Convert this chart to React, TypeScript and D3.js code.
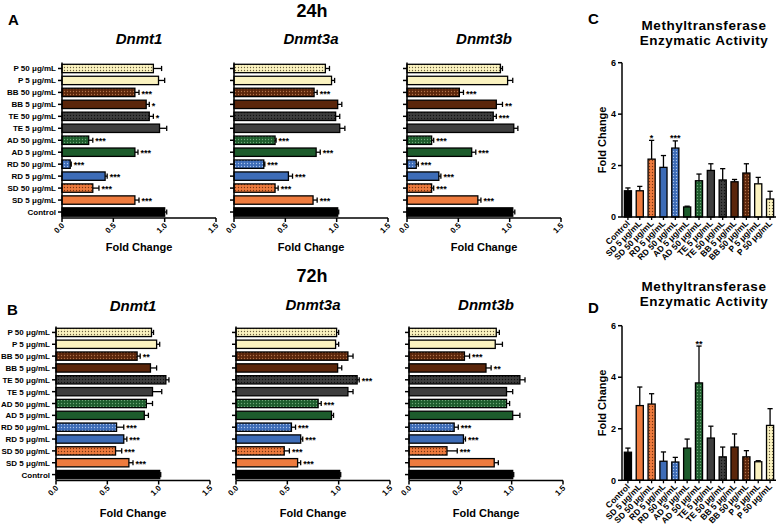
import React from 'react';
import * as d3 from 'd3';

const categories = ['Control', 'SD 5 μg/mL', 'SD 50 μg/mL', 'RD 5 μg/mL', 'RD 50 μg/mL', 'AD 5 μg/mL', 'AD 50 μg/mL', 'TE 5 μg/mL', 'TE 50 μg/mL', 'BB 5 μg/mL', 'BB 50 μg/mL', 'P 5 μg/mL', 'P 50 μg/mL'];

// 24h
const d1_24 = [1.0, 0.71, 0.30, 0.42, 0.08, 0.71, 0.26, 0.95, 0.85, 0.82, 0.71, 0.94, 0.89];
const d1_24err = [0.02, 0.04, 0.06, 0.02, 0.01, 0.03, 0.04, 0.07, 0.04, 0.03, 0.04, 0.06, 0.08];
const d1_24sig = ['', '***', '***', '***', '***', '***', '***', '', '*', '*', '***', '', ''];
const d3a_24 = [1.01, 0.77, 0.40, 0.53, 0.29, 0.80, 0.40, 1.03, 0.99, 1.01, 0.78, 0.95, 0.89];
const d3a_24err = [0.01, 0.04, 0.03, 0.04, 0.01, 0.04, 0.01, 0.05, 0.04, 0.04, 0.03, 0.03, 0.04];
const d3a_24sig = ['', '***', '***', '***', '***', '***', '***', '', '', '', '***', '', ''];
const d3b_24 = [1.03, 0.69, 0.24, 0.31, 0.09, 0.63, 0.24, 1.04, 0.84, 0.87, 0.51, 0.98, 0.91];
const d3b_24err = [0.02, 0.03, 0.02, 0.02, 0.02, 0.04, 0.02, 0.04, 0.03, 0.06, 0.04, 0.05, 0.02];
const d3b_24sig = ['', '***', '***', '***', '***', '***', '***', '', '***', '**', '***', '', ''];

// 72h
const d1_72 = [1.01, 0.71, 0.58, 0.66, 0.59, 0.86, 0.88, 0.94, 1.07, 0.92, 0.79, 0.98, 0.93];
const d1_72err = [0.01, 0.04, 0.06, 0.03, 0.07, 0.04, 0.06, 0.09, 0.03, 0.06, 0.03, 0.03, 0.02];
const d1_72sig = ['', '***', '***', '***', '***', '', '', '', '', '', '**', '', ''];
const d3a_72 = [1.01, 0.60, 0.47, 0.63, 0.54, 0.93, 0.80, 1.09, 1.18, 0.99, 1.09, 0.97, 0.98];
const d3a_72err = [0.01, 0.03, 0.05, 0.02, 0.04, 0.02, 0.03, 0.05, 0.02, 0.04, 0.05, 0.03, 0.02];
const d3a_72sig = ['', '***', '***', '***', '***', '', '***', '', '***', '', '', '', ''];
const d3b_72 = [1.01, 0.83, 0.37, 0.53, 0.44, 1.01, 0.95, 0.95, 1.08, 0.75, 0.54, 0.84, 0.85];
const d3b_72err = [0.01, 0.04, 0.10, 0.02, 0.04, 0.07, 0.03, 0.06, 0.05, 0.05, 0.05, 0.07, 0.03];
const d3b_72sig = ['', '', '***', '***', '***', '', '', '', '', '**', '***', '', ''];

// Enzymatic activity
const actC = [1.02, 1.02, 2.25, 1.93, 2.68, 0.39, 1.41, 1.81, 1.44, 1.37, 1.71, 1.29, 0.70];
const actCerr = [0.11, 0.17, 0.73, 0.46, 0.28, 0.03, 0.26, 0.26, 0.44, 0.09, 0.36, 0.25, 0.30];
const actCsig = ['', '', '*', '', '***', '', '', '', '', '', '', '', ''];
const actD = [1.09, 2.90, 2.96, 0.74, 0.71, 1.25, 3.78, 1.64, 0.91, 1.29, 0.91, 0.72, 2.13];
const actDerr = [0.16, 0.72, 0.40, 0.36, 0.18, 0.35, 1.43, 0.46, 0.38, 0.51, 0.24, 0.04, 0.65];
const actDsig = ['', '', '', '', '', '', '**', '', '', '', '', '', ''];

const hTicks = [0, 0.5, 1.0, 1.5];
const vTicks = [0, 2, 4, 6];

const groupColors = ['#000000', '#EE7B3E', '#EE7B3E', '#3D6CB7', '#3D6CB7', '#1D5C2C', '#1D5C2C', '#3E3E3E', '#3E3E3E', '#5B260B', '#5B260B', '#FBF3C0', '#FBF3C0'];
const dotColors = ['', '', '#7a3510', '', '#a9c3ec', '', '#6da577', '', '#111111', '', '#b07048', '', '#6b6040'];

const FONT = '"Liberation Sans", Arial, Helvetica, sans-serif';

function fillFor(i: number) {
  return dotColors[i] ? `url(#pat${i})` : groupColors[i];
}

function Patterns() {
  return (
    <defs>
      {categories.map((c, i) =>
        dotColors[i] ? (
          <pattern key={i} id={`pat${i}`} width={3} height={3} patternUnits="userSpaceOnUse">
            <rect width={3} height={3} fill={groupColors[i]} />
            <circle cx={1.5} cy={1.5} r={0.65} fill={dotColors[i]} />
          </pattern>
        ) : null
      )}
    </defs>
  );
}

function HPanel(props: {
  x0: number; yTop: number; yBot: number; values: number[]; errs: number[]; sigs: string[];
  title: string; titleY: number; foldY: number; showLabels: boolean;
}) {
  const { x0, yTop, yBot, values, errs, sigs, title, titleY, foldY, showLabels } = props;
  const x = d3.scaleLinear().domain([0, 1.5]).range([x0, x0 + 154]);
  const y = d3.scaleBand<string>().domain([...categories].reverse()).range([yTop, yBot]).paddingInner(0.3).paddingOuter(0.15);
  const bw = y.bandwidth();
  const cx = (x(0) + x(1.5)) / 2;
  return (
    <g fontFamily={FONT} fontWeight="bold">
      <text x={cx} y={titleY} textAnchor="middle" fontSize={15} fontStyle="italic">{title}</text>
      {categories.map((c, i) => {
        const yy = y(c)!;
        const v = values[i];
        const e = errs[i];
        const xe = x(v + e);
        const yc = yy + bw / 2;
        return (
          <g key={c}>
            <rect x={x(0)} y={yy} width={x(v) - x(0)} height={bw} fill={fillFor(i)} stroke="#000" strokeWidth={1.3} />
            <line x1={x(v)} x2={xe} y1={yc} y2={yc} stroke="#000" strokeWidth={1.3} />
            <line x1={xe} x2={xe} y1={yc - 2.6} y2={yc + 2.6} stroke="#000" strokeWidth={1.3} />
            {sigs[i] ? <text x={xe + 2.5} y={yc + 4.2} fontSize={9}>{sigs[i]}</text> : null}
            <line x1={x0 - 4} x2={x0} y1={yc} y2={yc} stroke="#000" strokeWidth={1.5} />
            {showLabels ? <text x={x0 - 6} y={yc + 3} textAnchor="end" fontSize={8}>{c}</text> : null}
          </g>
        );
      })}
      <line x1={x0} x2={x0} y1={yTop} y2={yBot} stroke="#000" strokeWidth={1.5} />
      <line x1={x0} x2={x(1.5)} y1={yBot} y2={yBot} stroke="#000" strokeWidth={1.5} />
      {hTicks.map(t => (
        <g key={t}>
          <line x1={x(t)} x2={x(t)} y1={yBot} y2={yBot + 4} stroke="#000" strokeWidth={1.5} />
          <text transform={`translate(${x(t) + 3},${yBot + 8}) rotate(-45)`} textAnchor="end" fontSize={8}>{t.toFixed(1)}</text>
        </g>
      ))}
      <text x={cx} y={foldY} textAnchor="middle" fontSize={11}>Fold Change</text>
    </g>
  );
}

function VPanel(props: {
  y0: number; y6: number; values: number[]; errs: number[]; sigs: string[]; titleY1: number; letter: string; letterY: number;
}) {
  const { y0, y6, values, errs, sigs, titleY1, letter, letterY } = props;
  const x = d3.scaleBand<string>().domain(categories).range([622, 776]).paddingInner(0.4).paddingOuter(0.2);
  const y = d3.scaleLinear().domain([0, 6]).range([y0, y6]);
  const bw = x.bandwidth();
  return (
    <g fontFamily={FONT} fontWeight="bold">
      <text x={588} y={letterY} fontSize={15}>{letter}</text>
      <text x={704} y={titleY1} textAnchor="middle" fontSize={13.5} letterSpacing={0.55}>Methyltransferase</text>
      <text x={704} y={titleY1 + 15.5} textAnchor="middle" fontSize={13.5} letterSpacing={0.55}>Enzymatic Activity</text>
      <text transform={`translate(606,${(y0 + y6) / 2}) rotate(-90)`} textAnchor="middle" fontSize={11}>Fold Change</text>
      {categories.map((c, i) => {
        const xx = x(c)!;
        const xc = xx + bw / 2;
        const v = values[i];
        const ye = y(v + errs[i]);
        return (
          <g key={c}>
            <line x1={xc} x2={xc} y1={y(v)} y2={ye} stroke="#000" strokeWidth={1.3} />
            <line x1={xc - 2.6} x2={xc + 2.6} y1={ye} y2={ye} stroke="#000" strokeWidth={1.3} />
            <rect x={xx} y={y(v)} width={bw} height={y(0) - y(v)} fill={fillFor(i)} stroke="#000" strokeWidth={1.3} />
            {sigs[i] ? <text x={xc} y={ye + 0.5} textAnchor="middle" fontSize={9}>{sigs[i]}</text> : null}
            <line x1={xc} x2={xc} y1={y0} y2={y0 + 3} stroke="#000" strokeWidth={1.3} />
            <text transform={`translate(${xc + 2.5},${y0 + 7}) rotate(-45)`} textAnchor="end" fontSize={8.5}>{c}</text>
          </g>
        );
      })}
      <line x1={622} x2={622} y1={y0} y2={y6} stroke="#000" strokeWidth={1.5} />
      <line x1={622} x2={776} y1={y0} y2={y0} stroke="#000" strokeWidth={1.5} />
      {vTicks.map(t => (
        <g key={t}>
          <line x1={618} x2={622} y1={y(t)} y2={y(t)} stroke="#000" strokeWidth={1.5} />
          <text x={616} y={y(t) + 3.2} textAnchor="end" fontSize={9}>{t}</text>
        </g>
      ))}
    </g>
  );
}

export default function App() {
  return (
    <svg width={780} height={530} style={{ position: 'absolute', left: 0, top: 0, background: '#fff' }}>
      <Patterns />
      <rect width={780} height={530} fill="#fff" />
      <g fontFamily={FONT} fontWeight="bold">
        <text x={8} y={25} fontSize={15}>A</text>
        <text x={312} y={17} textAnchor="middle" fontSize={18}>24h</text>
        <text x={7} y={315} fontSize={15}>B</text>
        <text x={312} y={282} textAnchor="middle" fontSize={18}>72h</text>
      </g>
      <HPanel x0={62} yTop={62.5} yBot={218} values={d1_24} errs={d1_24err} sigs={d1_24sig} title="Dnmt1" titleY={44} foldY={251} showLabels />
      <HPanel x0={234} yTop={62.5} yBot={218} values={d3a_24} errs={d3a_24err} sigs={d3a_24sig} title="Dnmt3a" titleY={44} foldY={251} showLabels={false} />
      <HPanel x0={407} yTop={62.5} yBot={218} values={d3b_24} errs={d3b_24err} sigs={d3b_24sig} title="Dnmt3b" titleY={44} foldY={251} showLabels={false} />
      <HPanel x0={56} yTop={326.5} yBot={480.5} values={d1_72} errs={d1_72err} sigs={d1_72sig} title="Dnmt1" titleY={311} foldY={517} showLabels />
      <HPanel x0={236} yTop={326.5} yBot={480.5} values={d3a_72} errs={d3a_72err} sigs={d3a_72sig} title="Dnmt3a" titleY={310} foldY={517} showLabels={false} />
      <HPanel x0={409} yTop={326.5} yBot={480.5} values={d3b_72} errs={d3b_72err} sigs={d3b_72sig} title="Dnmt3b" titleY={310} foldY={517} showLabels={false} />
      <VPanel y0={217} y6={62.7} values={actC} errs={actCerr} sigs={actCsig} titleY1={29.5} letter="C" letterY={24} />
      <VPanel y0={480.3} y6={325.7} values={actD} errs={actDerr} sigs={actDsig} titleY1={290.5} letter="D" letterY={313} />
    </svg>
  );
}
